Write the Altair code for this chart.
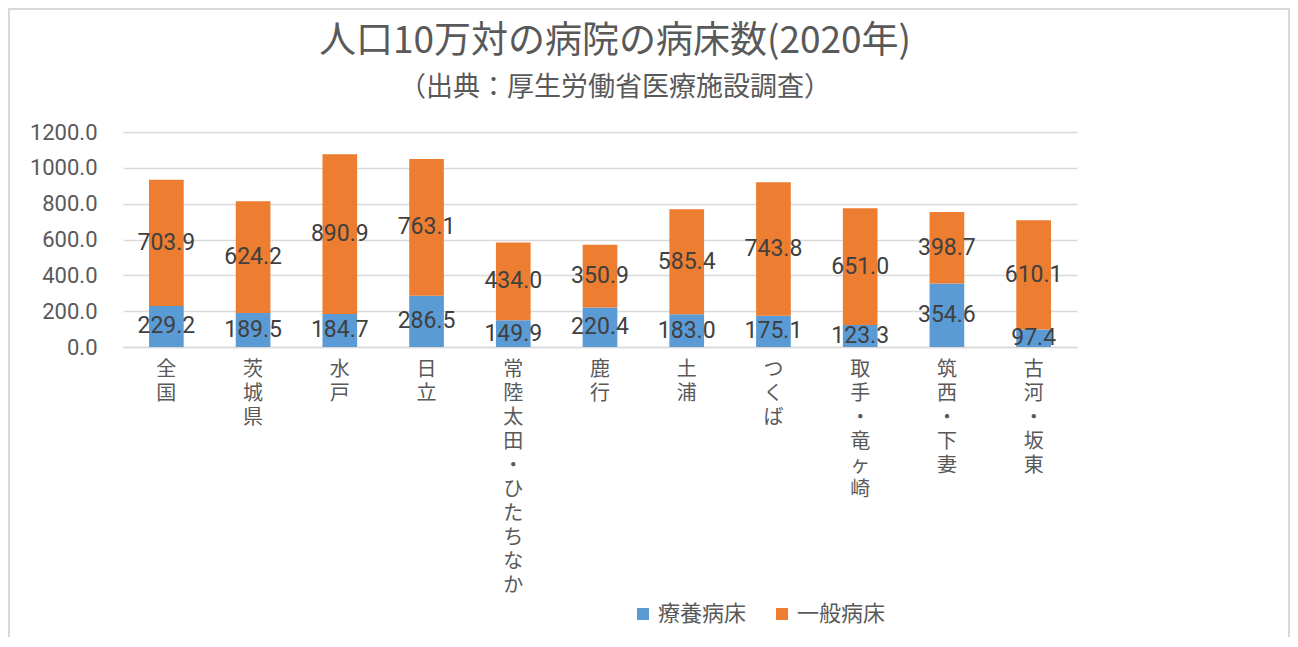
import altair as alt
import pandas as pd

categories = ["全国", "茨城県", "水戸", "日立", "常陸太田・ひたちなか", "鹿行",
              "土浦", "つくば", "取手・竜ヶ崎", "筑西・下妻", "古河・坂東"]
ryoyo = [229.2, 189.5, 184.7, 286.5, 149.9, 220.4, 183.0, 175.1, 123.3, 354.6, 97.4]
ippan = [703.9, 624.2, 890.9, 763.1, 434.0, 350.9, 585.4, 743.8, 651.0, 398.7, 610.1]
series = ["療養病床", "一般病床"]
colors = ["#5B9BD5", "#ED7D31"]
y_ticks = [0, 200, 400, 600, 800, 1000, 1200]

rows = []
for i, c in enumerate(categories):
    rows.append({"region": c, "type": series[0], "ord": 0, "value": ryoyo[i]})
    rows.append({"region": c, "type": series[1], "ord": 1, "value": ippan[i]})
df = pd.DataFrame(rows)

JP = "Noto Sans CJK JP"
NUM = "Roboto"
GRAY = "#595959"

x_scale = alt.Scale(paddingInner=0.6, paddingOuter=0.3)
y_scale = alt.Scale(domain=[0, 1200])

x_axis = alt.Axis(labelAngle=0, labelExpr="split(datum.label, '')",
                  labelFont=JP, labelFontSize=20, labelLineHeight=24,
                  labelColor=GRAY, labelBaseline="top", labelAlign="center",
                  labelPadding=12, ticks=False, domainColor="#d9d9d9",
                  domainWidth=1.5, grid=False, labelOverlap=False)
y_axis = alt.Axis(values=y_ticks, format=".1f", labelFont=NUM,
                  labelFontSize=22, labelColor=GRAY, labelPadding=26,
                  labelOverlap=False, ticks=False, domain=False,
                  gridColor="#d9d9d9", gridWidth=1.5)

base = alt.Chart(df)

bars = base.mark_bar().encode(
    x=alt.X("region:N", sort=categories, title=None, scale=x_scale, axis=x_axis),
    y=alt.Y("value:Q", stack="zero", title=None, scale=y_scale, axis=y_axis),
    color=alt.Color("type:N", sort=series,
                    scale=alt.Scale(domain=series, range=colors),
                    legend=alt.Legend(title=None, orient="none", direction="horizontal",
                                      legendX=509, legendY=471, symbolType="square",
                                      symbolSize=144, symbolStrokeWidth=0,
                                      labelFont=JP, labelFontSize=22,
                                      labelColor=GRAY, columnPadding=24,
                                      labelOffset=4)),
    order=alt.Order("ord:Q", sort="ascending"),
)

labels = base.transform_stack(
    stack="value", groupby=["region"], as_=["y0", "y1"],
    sort=[alt.SortField("ord", order="ascending")],
).transform_calculate(
    mid="(datum.y0 + datum.y1) / 2",
    lbl="format(datum.value, '.1f')",
).mark_text(font=NUM, fontSize=23, color="#404040", baseline="middle").encode(
    x=alt.X("region:N", sort=categories, title=None, scale=x_scale, axis=x_axis),
    y=alt.Y("mid:Q", title=None, scale=y_scale, axis=y_axis),
    text="lbl:N",
)

border = alt.Chart(alt.Data(values=[{}])).mark_rect(
    fill="transparent", stroke="#d9d9d9", strokeWidth=2
).encode(x=alt.value(-114), x2=alt.value(1166), y=alt.value(-123), y2=alt.value(520))

chart = alt.layer(border, bars, labels).properties(
    width=954, height=215,
    title=alt.TitleParams(
        text="人口10万対の病院の病床数(2020年)",
        subtitle="（出典：厚生労働省医療施設調査）",
        anchor="middle", dx=15, offset=-94,
        font=JP, fontSize=37, fontWeight="normal", color=GRAY,
        subtitleFont=JP, subtitleFontSize=27, subtitleColor=GRAY,
        subtitlePadding=14,
    ),
    padding={"left": 115, "top": 124, "right": 213, "bottom": 290},
    autosize=alt.AutoSizeParams(type="none"),
).configure_view(stroke=None)

chart.save("out.html", embed_options={"renderer": "svg", "actions": False})
